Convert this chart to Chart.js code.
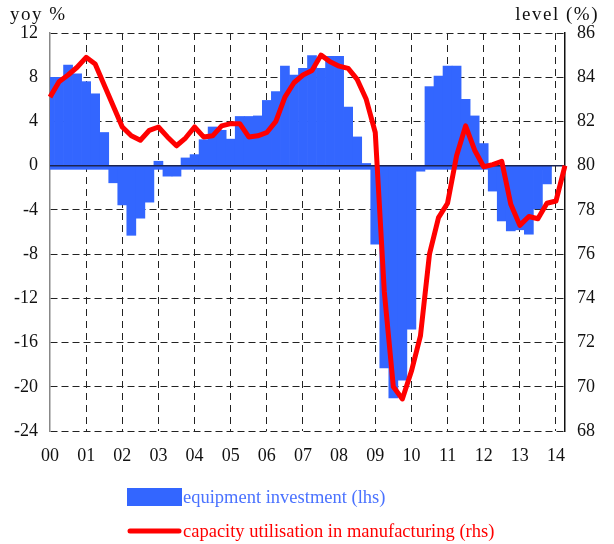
<!DOCTYPE html>
<html>
<head>
<meta charset="utf-8">
<script src="https://cdn.jsdelivr.net/npm/chart.js@4/dist/chart.umd.min.js"></script>
<style>
  html, body { margin: 0; padding: 0; background: #fff; }
  #wrap { width: 614px; height: 544px; }
</style>
</head>
<body>
<div id="wrap"><canvas id="chart" width="614" height="544"></canvas></div>
<script>
// year labels shown under the axis (one per Q4 point)
const yearLabels = ['00', '01', '02', '03', '04', '05', '06', '07', '08', '09', '10', '11', '12', '13', '14'];

// quarters from 1999Q4 to 2014Q1
const quarters = ['1999Q4'];
for (let y = 2000; y <= 2014; y++) {
    for (let q = 1; q <= 4; q++) {
        if (y === 2014 && q > 1) break;
        quarters.push(y + 'Q' + q);
    }
}

// equipment investment, yoy % (lhs)
const investment = [
    8.0,
    8.0, 9.1, 8.3, 7.6,
    6.5, 3.0, -1.55, -3.55,
    -6.3, -4.75, -3.3, 0.4,
    -0.95, -0.95, 0.7, 1.0,
    2.35, 3.5, 3.2, 2.4,
    4.45, 4.45, 4.5, 5.9,
    6.7, 9.0, 8.2, 8.8,
    9.95, 8.8, 9.9, 9.9,
    5.3, 2.6, 0.2, -7.1,
    -18.3, -21.0, -19.4, -14.8,
    -0.5, 7.15, 8.1, 9.0,
    9.0, 6.0, 4.5, 2.0,
    -2.3, -5.0, -5.9, -5.8,
    -6.2, -3.9, -1.65, null,
    null
];

// capacity utilisation in manufacturing, level % (rhs)
const capacity = [
    83.1,
    83.8, 84.1, 84.45, 84.9,
    84.6, 83.65, 82.7, 81.75,
    81.35, 81.15, 81.6, 81.75,
    81.3, 80.9, 81.25, 81.75,
    81.3, 81.35, 81.8, 81.9,
    81.9, 81.3, 81.35, 81.5,
    82.0, 83.1, 83.75, 84.1,
    84.3, 85.0, 84.7, 84.5,
    84.4, 83.9, 83.0, 81.5,
    74.3, 70.0, 69.45, 70.7,
    72.3, 76.0, 77.65, 78.3,
    80.45, 81.8, 80.7, 79.95,
    80.05, 80.2, 78.25, 77.3,
    77.7, 77.6, 78.3, 78.4,
    80.0
];

const barBlue = '#3366ff';
const lineRed = '#ff0000';
const fontFamily = '"Liberation Serif", "DejaVu Serif", serif';

// blue strip under zero line and dark zero line on top of bars
const zeroLinePlugin = {
    id: 'zeroLine',
    beforeDatasetDraw(chart, args) {
        if (args.meta.type !== 'bar') return;
        const ctx = chart.ctx;
        const area = chart.chartArea;
        const y0 = chart.scales.y.getPixelForValue(0);
        let right = area.left;
        args.meta.data.forEach((bar, i) => {
            if (investment[i] !== null) right = bar.x + bar.width / 2;
        });
        ctx.save();
        ctx.fillStyle = barBlue;
        ctx.fillRect(area.left, y0, right - area.left, 4);
        ctx.restore();
    },
    afterDatasetDraw(chart, args) {
        if (args.meta.type !== 'bar') return;
        const ctx = chart.ctx;
        const area = chart.chartArea;
        const y0 = chart.scales.y.getPixelForValue(0);
        ctx.save();
        ctx.strokeStyle = '#1c2450';
        ctx.lineWidth = 1.5;
        ctx.beginPath();
        ctx.moveTo(area.left, y0);
        ctx.lineTo(area.right, y0);
        ctx.stroke();
        ctx.restore();
    }
};

// axis captions and the legend below the chart
const captionPlugin = {
    id: 'captions',
    afterDraw(chart) {
        const ctx = chart.ctx;
        ctx.save();
        ctx.font = '19px ' + fontFamily;
        ctx.letterSpacing = '1.5px';
        ctx.fillStyle = '#111';
        ctx.textBaseline = 'middle';
        ctx.textAlign = 'left';
        ctx.fillText('yoy %', 10, 15);
        ctx.textAlign = 'right';
        ctx.fillText('level (%)', 599, 15);
        ctx.letterSpacing = '0px';

        ctx.font = '18.5px ' + fontFamily;
        ctx.textAlign = 'left';
        ctx.fillStyle = barBlue;
        ctx.fillRect(127, 488, 55, 18);
        ctx.fillStyle = '#4a72ff';
        ctx.fillText('equipment investment (lhs)', 183, 498);

        ctx.strokeStyle = lineRed;
        ctx.lineWidth = 5;
        ctx.lineCap = 'round';
        ctx.beginPath();
        ctx.moveTo(130, 531);
        ctx.lineTo(179, 531);
        ctx.stroke();
        ctx.fillStyle = lineRed;
        ctx.fillText('capacity utilisation in manufacturing (rhs)', 183, 532);
        ctx.restore();
    }
};

function isYearTick(index) {
    return index % 4 === 0;
}

const chart = new Chart(document.getElementById('chart'), {
    type: 'bar',
    data: {
        labels: quarters,
        datasets: [
            {
                type: 'line',
                label: 'capacity utilisation in manufacturing (rhs)',
                data: capacity,
                yAxisID: 'y2',
                borderColor: lineRed,
                borderWidth: 5,
                borderJoinStyle: 'round',
                pointRadius: 0,
                tension: 0,
                order: 0
            },
            {
                label: 'equipment investment (lhs)',
                data: investment,
                yAxisID: 'y',
                backgroundColor: barBlue,
                borderWidth: 0,
                barPercentage: 1,
                categoryPercentage: 1,
                clip: 0,
                order: 1
            }
        ]
    },
    options: {
        responsive: false,
        animation: false,
        layout: { padding: { top: 33, left: 0, right: 0, bottom: 0 } },
        plugins: {
            legend: { display: false },
            tooltip: { enabled: false }
        },
        scales: {
            x: {
                type: 'category',
                offset: false,
                afterFit: scale => { scale.height = 113; },
                grid: {
                    offset: false,
                    drawTicks: false,
                    lineWidth: 1,
                    color: ctx => (isYearTick(ctx.index) && ctx.index > 0) ? '#222' : 'rgba(0,0,0,0)'
                },
                border: { display: false, dash: [7, 5] },
                ticks: {
                    autoSkip: false,
                    maxRotation: 0,
                    padding: 14,
                    color: '#111',
                    font: { family: fontFamily, size: 18 },
                    callback: (value, index) => isYearTick(index) ? yearLabels[index / 4] : ''
                }
            },
            y: {
                position: 'left',
                min: -24,
                max: 12,
                afterFit: scale => { scale.width = 50; },
                ticks: {
                    stepSize: 4,
                    padding: 12,
                    color: '#111',
                    font: { family: fontFamily, size: 18 }
                },
                grid: { drawTicks: false, color: '#222', lineWidth: 1 },
                border: { display: true, color: '#888', width: 1.5, dash: [7, 4] }
            },
            y2: {
                position: 'right',
                min: 68,
                max: 86,
                afterFit: scale => { scale.width = 49; },
                ticks: {
                    stepSize: 2,
                    padding: 12,
                    color: '#111',
                    font: { family: fontFamily, size: 18 }
                },
                grid: { display: false, drawTicks: false },
                border: { display: true, color: '#111', width: 1.5 }
            }
        }
    },
    plugins: [zeroLinePlugin, captionPlugin]
});
</script>
</body>
</html>
